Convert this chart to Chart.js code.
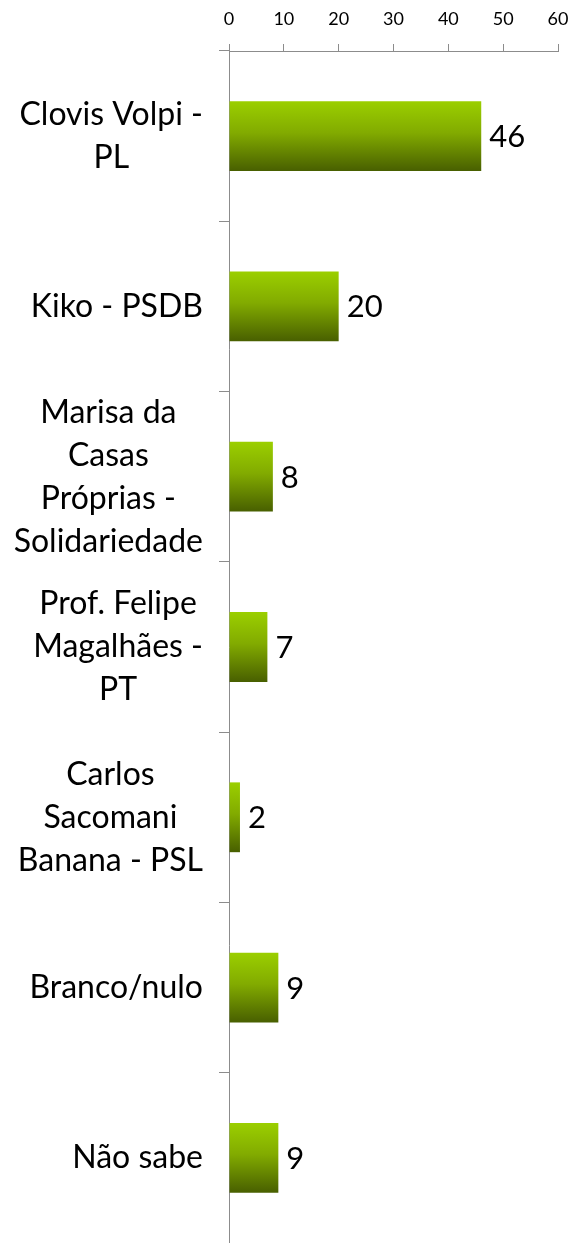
<!DOCTYPE html>
<html>
<head>
<meta charset="utf-8">
<script src="https://cdn.jsdelivr.net/npm/chart.js@4.4.1/dist/chart.umd.min.js"></script>
<style>
  html, body { margin: 0; padding: 0; background: #fff; overflow: hidden; }
  #wrap { width: 569px; height: 1243px; position: relative; }
  canvas { display: block; }
</style>
</head>
<body>
<div id="wrap"><canvas id="chart"></canvas></div>
<script>
const candidates = [
  ["Clovis Volpi -", "PL"],
  ["Kiko - PSDB"],
  ["Marisa da", "Casas", "Próprias -", "Solidariedade"],
  ["Prof. Felipe", "Magalhães -", "PT"],
  ["Carlos", "Sacomani", "Banana - PSL"],
  ["Branco/nulo"],
  ["Não sabe"],
];
const votes = [46, 20, 8, 7, 2, 9, 9];
const axisTicks = [0, 10, 20, 30, 40, 50, 60];

const FONT = "Lato, 'Open Sans', sans-serif";
const axisColor = "#8c8c8c";

// category labels: block right-aligned, lines centred inside the block
const categoryLabels = {
  id: "categoryLabels",
  afterDraw(chart) {
    const ctx = chart.ctx;
    const y = chart.scales.y;
    const right = 203;
    const lineH = 43;
    ctx.save();
    ctx.font = "32px " + FONT;
    ctx.fillStyle = "#000";
    ctx.textAlign = "center";
    ctx.textBaseline = "middle";
    candidates.forEach((lines, i) => {
      const widest = Math.max(...lines.map(l => ctx.measureText(l).width));
      const cx = right - widest / 2;
      const cy = y.getPixelForTick(i);
      const start = cy - (lines.length - 1) * lineH / 2;
      lines.forEach((l, k) => ctx.fillText(l, cx, start + k * lineH));
    });
    ctx.restore();
  }
};

// value labels right of each bar
const valueLabels = {
  id: "valueLabels",
  afterDatasetsDraw(chart) {
    const ctx = chart.ctx;
    const meta = chart.getDatasetMeta(0);
    ctx.save();
    ctx.font = "31px " + FONT;
    ctx.fillStyle = "#000";
    ctx.textAlign = "left";
    ctx.textBaseline = "middle";
    meta.data.forEach((bar, i) => {
      ctx.fillText(String(votes[i]), bar.x + 8, bar.y + 1);
    });
    ctx.restore();
  }
};

function barGradient(context) {
  const chart = context.chart;
  const y = chart.scales.y;
  if (!y || !chart.chartArea) return "#88b300";
  const band = y.height / candidates.length;
  const half = band * 0.41 / 2;
  const cy = y.getPixelForValue(context.dataIndex);
  const g = chart.ctx.createLinearGradient(0, cy - half, 0, cy + half);
  g.addColorStop(0, "#9bcf00");
  g.addColorStop(0.45, "#82ab00");
  g.addColorStop(1, "#485f00");
  return g;
}

new Chart(document.getElementById("chart"), {
  type: "bar",
  data: {
    labels: candidates,
    datasets: [{
      data: votes,
      backgroundColor: barGradient,
      borderWidth: 0,
      barPercentage: 0.41,
      categoryPercentage: 1,
    }],
  },
  options: {
    indexAxis: "y",
    responsive: true,
    maintainAspectRatio: false,
    animation: false,
    layout: { padding: { left: 0, right: 11, top: 0, bottom: 0 } },
    plugins: {
      legend: { display: false },
      tooltip: { enabled: false },
    },
    scales: {
      x: {
        position: "top",
        min: 0,
        max: 60,
        afterBuildTicks(scale) {
          scale.ticks = axisTicks.map(v => ({ value: v }));
        },
        afterFit(scale) {
          scale.height = 51;
          scale.paddingLeft = 0;
          scale.paddingRight = 0;
        },
        border: { color: axisColor, width: 1 },
        grid: {
          drawOnChartArea: false,
          tickLength: 7,
          color: axisColor,
        },
        ticks: {
          color: "#000",
          padding: 14,
          font: { family: FONT, size: 18 },
          maxRotation: 0,
        },
      },
      y: {
        afterFit(scale) {
          scale.width = 229;
          scale.paddingTop = 0;
          scale.paddingBottom = 0;
        },
        border: { color: axisColor, width: 1 },
        grid: {
          offset: true,
          drawOnChartArea: false,
          tickLength: 10,
          color: axisColor,
        },
        ticks: { display: false },
      },
    },
  },
  plugins: [categoryLabels, valueLabels],
});
</script>
</body>
</html>
